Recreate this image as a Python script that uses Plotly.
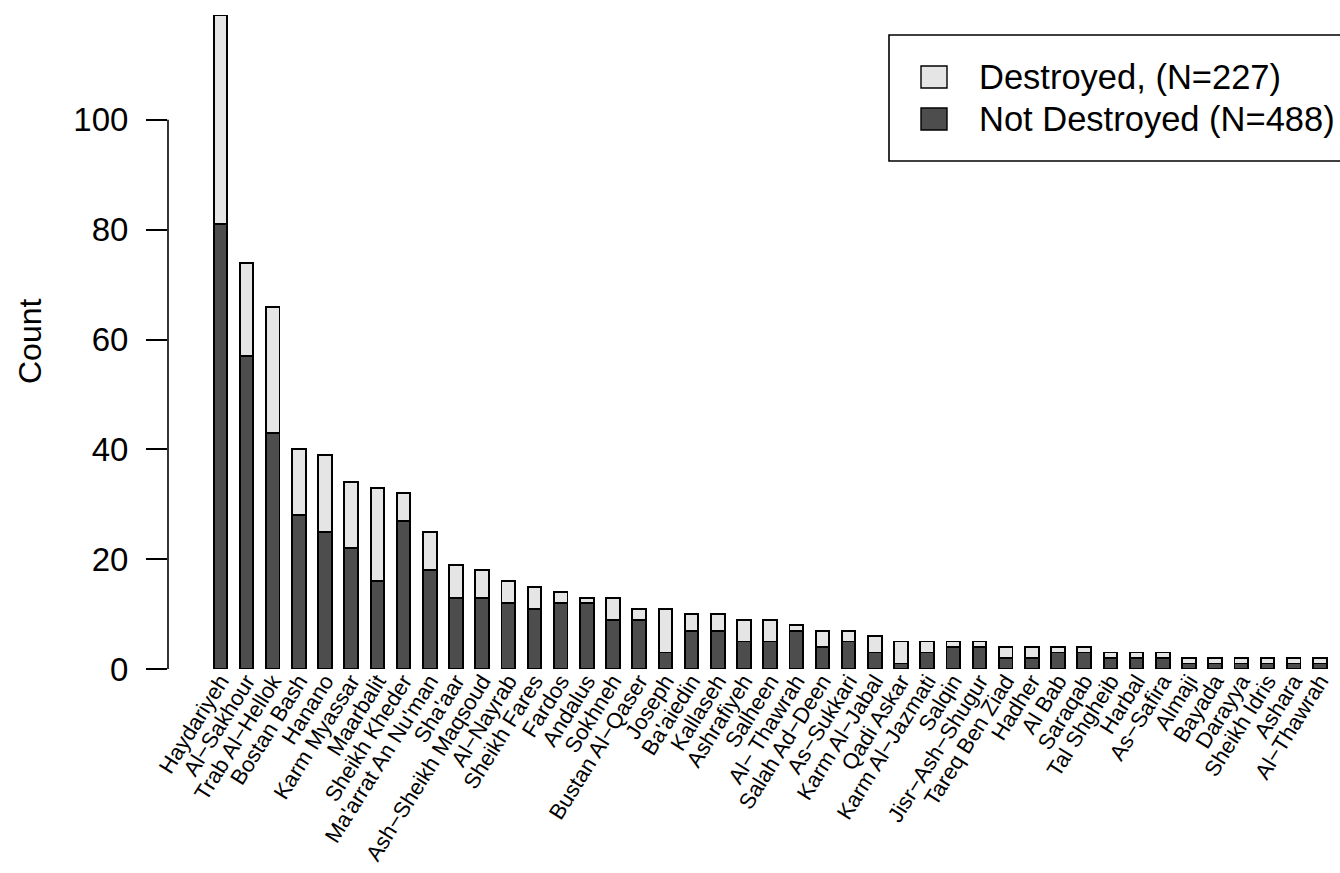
import plotly.graph_objects as go

# Neighbourhoods, ordered by total count
neighbourhoods = [
    "Haydariyeh", "Al−Sakhour", "Trab Al−Hellok", "Bostan Bash", "Hanano",
    "Karm Myassar", "Maarbalit", "Sheikh Kheder", "Ma'arrat An Nu'man", "Sha'aar",
    "Ash−Sheikh Maqsoud", "Al−Nayrab", "Sheikh Fares", "Fardos", "Andalus",
    "Sokhneh", "Bustan Al−Qaser", "Joseph", "Ba'aiedin", "Kallaseh",
    "Ashrafiyeh", "Salheen", "Al− Thawrah", "Salah Ad−Deen", "As−Sukkari",
    "Karm Al−Jabal", "Qadi Askar", "Karm Al−Jazmati", "Salqin", "Jisr−Ash−Shugur",
    "Tareq Ben Ziad", "Hadher", "Al Bab", "Saraqab", "Tal Shgheib",
    "Harbal", "As−Safira", "Almaji", "Bayada", "Darayya",
    "Sheikh Idris", "Ashara", "Al−Thawrah",
]

not_destroyed = [
    81, 57, 43, 28, 25, 22, 16, 27, 18, 13,
    13, 12, 11, 12, 12, 9, 9, 3, 7, 7,
    5, 5, 7, 4, 5, 3, 1, 3, 4, 4,
    2, 2, 3, 3, 2, 2, 2, 1, 1, 1,
    1, 1, 1,
]

destroyed = [
    38, 17, 23, 12, 14, 12, 17, 5, 7, 6,
    5, 4, 4, 2, 1, 4, 2, 8, 3, 3,
    4, 4, 1, 3, 2, 3, 4, 2, 1, 1,
    2, 2, 1, 1, 1, 1, 1, 1, 1, 1,
    1, 1, 1,
]

y_ticks = [0, 20, 40, 60, 80, 100]

DARK = "#4d4d4d"
LIGHT = "#e5e5e5"
FONT = "Liberation Sans, Arial, Helvetica, sans-serif"

W, H = 1340, 873
M_L, M_R, M_T, M_B = 168, 0, 10, 204
PW, PH = W - M_L - M_R, H - M_T - M_B


def px_x(px):
    return (px - M_L) / PW


def px_y(py):
    return (H - M_B - py) / PH


positions = list(range(len(neighbourhoods)))

fig = go.Figure()
fig.add_trace(go.Bar(
    x=positions, y=not_destroyed, width=0.52,
    marker=dict(color=DARK, line=dict(color="black", width=1.9)),
    name="Not Destroyed", showlegend=False,
))
fig.add_trace(go.Bar(
    x=positions, y=destroyed, width=0.52,
    marker=dict(color=LIGHT, line=dict(color="black", width=1.9)),
    name="Destroyed", showlegend=False,
))

shapes = []
annotations = []

# y axis line only spans the labelled tick range
shapes.append(dict(type="line", xref="paper", yref="y", x0=0, x1=0,
                   y0=y_ticks[0], y1=y_ticks[-1],
                   line=dict(color="black", width=1.6)))

# legend box
shapes.append(dict(type="rect", xref="paper", yref="paper",
                   x0=px_x(889), x1=px_x(1345), y0=px_y(161), y1=px_y(35),
                   line=dict(color="black", width=1.6), fillcolor="white"))

legend_rows = [
    (f"Destroyed, (N={sum(destroyed)})", LIGHT, 77),
    (f"Not Destroyed (N={sum(not_destroyed)})", DARK, 119),
]
for label, col, cy in legend_rows:
    shapes.append(dict(type="rect", xref="paper", yref="paper",
                       x0=px_x(921), x1=px_x(947), y0=px_y(cy + 11), y1=px_y(cy - 11),
                       line=dict(color="black", width=1.4), fillcolor=col))
    annotations.append(dict(xref="paper", yref="paper", x=px_x(977), y=px_y(cy),
                            xanchor="left", yanchor="middle", showarrow=False,
                            text=label, font=dict(size=34.5, color="black", family=FONT)))

annotations.append(dict(xref="paper", yref="paper", x=px_x(30), y=px_y(341),
                        xanchor="center", yanchor="middle", showarrow=False,
                        text="Count", textangle=-90,
                        font=dict(size=32, color="black", family=FONT)))

fig.update_layout(
    width=W, height=H,
    margin=dict(l=M_L, r=M_R, t=M_T, b=M_B, pad=0, autoexpand=False),
    barmode="stack",
    plot_bgcolor="white", paper_bgcolor="white",
    font=dict(family=FONT, color="black"),
    shapes=shapes, annotations=annotations,
    xaxis=dict(
        range=[-2.0, 42.77], tickmode="array", tickvals=positions,
        ticktext=neighbourhoods, tickangle=-58, showgrid=False, zeroline=False,
        showline=False, ticks="", ticklabelstandoff=-6,
        tickfont=dict(size=22, family=FONT, color="black"),
        automargin=False, fixedrange=True,
    ),
    yaxis=dict(
        range=[0, 120], tickmode="array", tickvals=y_ticks,
        showgrid=False, zeroline=False, showline=False,
        ticks="outside", ticklen=21, tickwidth=1.6, tickcolor="black",
        ticklabelstandoff=11,
        tickfont=dict(size=33, family=FONT, color="black"),
        automargin=False, fixedrange=True,
    ),
)

fig.write_html("out.html")
